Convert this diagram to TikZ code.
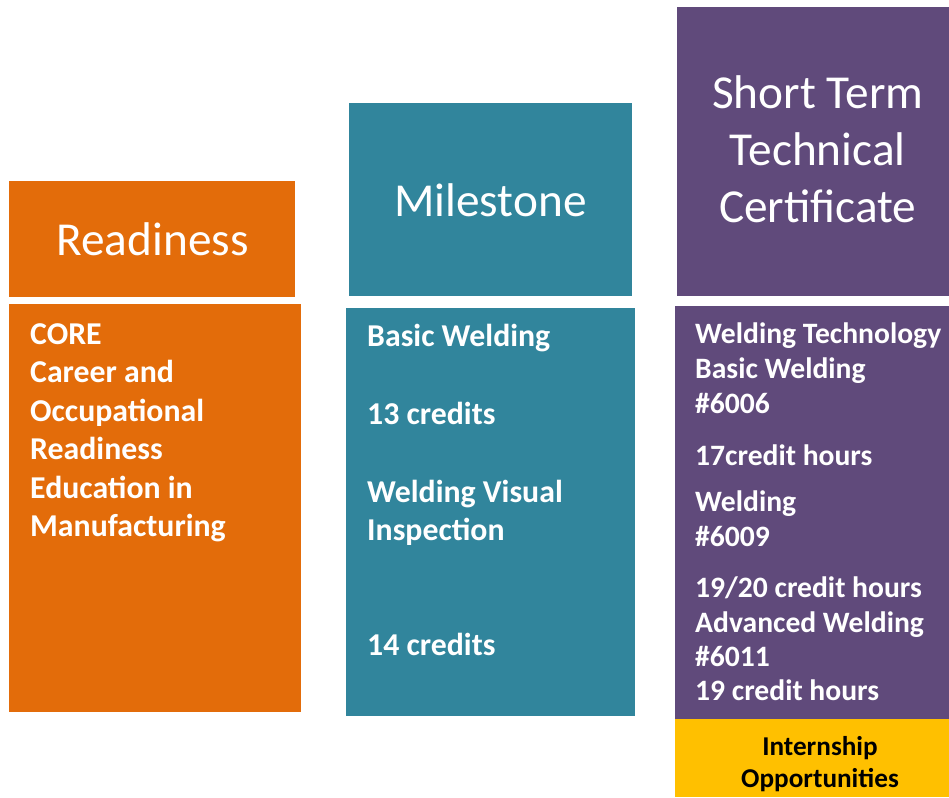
\documentclass[tikz,border=0pt]{standalone}
\usepackage{fontspec}
\setmainfont{Carlito}
\definecolor{orangeC}{RGB}{227,108,10}
\definecolor{tealC}{RGB}{49,133,156}
\definecolor{purpleC}{RGB}{96,74,123}
\definecolor{yellowC}{RGB}{255,192,0}
\begin{document}
\begin{tikzpicture}[x=1pt,y=-1pt,
  hdr/.style={text=white, font=\fontsize{47.3}{57}\selectfont, inner sep=0pt, anchor=base},
  bodyA/.style={text=white, font=\bfseries\fontsize{31.8}{38}\selectfont, inner sep=0pt, anchor=base west},
  bodyP/.style={text=white, font=\bfseries\fontsize{29.6}{35}\selectfont, inner sep=0pt, anchor=base west},
  bodyY/.style={text=black, font=\bfseries\fontsize{27.2}{32}\selectfont, inner sep=0pt, anchor=base}]
\useasboundingbox (0,0) rectangle (949,797);
% boxes
\fill[orangeC] (9,181) rectangle (295,297);
\fill[orangeC] (9,304) rectangle (301,712);
\fill[tealC] (349,103) rectangle (632,296);
\fill[tealC] (346,308) rectangle (635,716);
\fill[purpleC] (677,7) rectangle (949,296);
\fill[purpleC] (675,306) rectangle (949,719);
\fill[yellowC] (675,719) rectangle (949,797);
% headers
\node[hdr] (hR) at (152.5,255) {Readiness};
\node[hdr] (hM) at (490.5,216.7) {Milestone};
\node[hdr] (hS1) at (817.7,108.5) {Short Term};
\node[hdr] (hS2) at (817.7,165.5) {Technical};
\node[hdr] (hS3) at (817.7,222) {Certificate};
% readiness body
\node[bodyA] (r1) at (30,344) {CORE};
\node[bodyA] (r2) at (30,382.5) {Career and};
\node[bodyA] (r3) at (30,421) {Occupational};
\node[bodyA] (r4) at (30,459.5) {Readiness};
\node[bodyA] (r5) at (30,498) {Education in};
\node[bodyA] (r6) at (30,536.5) {Manufacturing};
% milestone body
\node[bodyA] (m1) at (367,346) {Basic Welding};
\node[bodyA] (m2) at (367,424.5) {13 credits};
\node[bodyA] (m3) at (367,502) {Welding Visual};
\node[bodyA] (m4) at (367,540.5) {Inspection};
\node[bodyA] (m5) at (367,655) {14 credits};
% certificate body
\node[bodyP] (p1) at (695,343) {Welding Technology};
\node[bodyP] (p2) at (695,378) {Basic Welding};
\node[bodyP] (p3) at (695,413) {\#6006};
\node[bodyP] (p4) at (695,465) {17credit hours};
\node[bodyP] (p5) at (695,511.5) {Welding};
\node[bodyP] (p6) at (695,546) {\#6009};
\node[bodyP] (p7) at (695,597) {19/20 credit hours};
\node[bodyP] (p8) at (695,632) {Advanced Welding};
\node[bodyP] (p9) at (695,666) {\#6011};
\node[bodyP] (p10) at (695,700.5) {19 credit hours};
% internship
\node[bodyY] (y1) at (820,755) {Internship};
\node[bodyY] (y2) at (820,787) {Opportunities};
\end{tikzpicture}
\end{document}
